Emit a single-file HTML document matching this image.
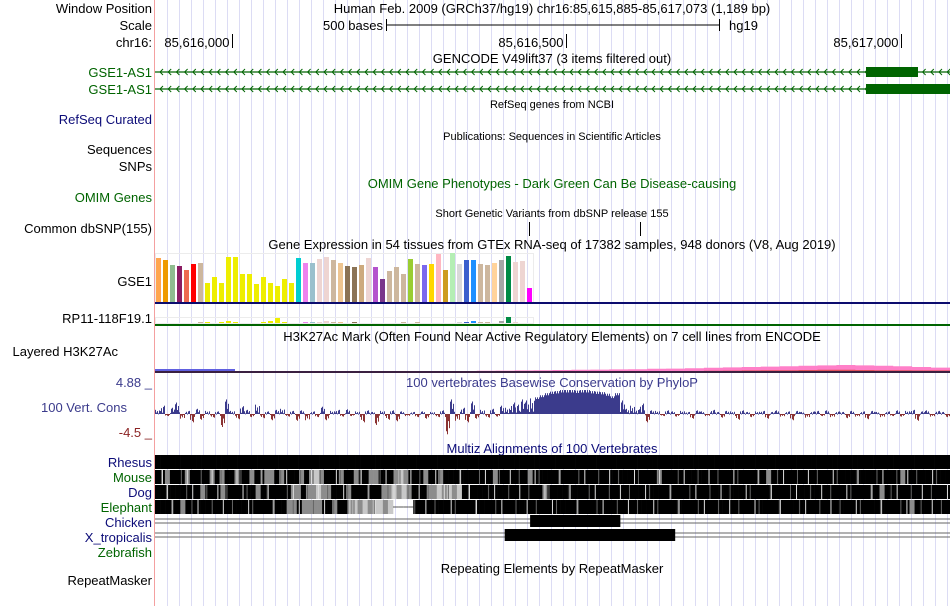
<!DOCTYPE html>
<html><head><meta charset="utf-8">
<style>
html,body{margin:0;padding:0;background:#fff;}
body{width:950px;height:606px;overflow:hidden;font-family:"Liberation Sans",sans-serif;}
svg text{font-family:"Liberation Sans",sans-serif;}
</style></head>
<body>
<svg id="c" width="950" height="606" xmlns="http://www.w3.org/2000/svg">
<g id="grid"></g>
<line x1="154.5" y1="0" x2="154.5" y2="606" stroke="#f4a0a0" stroke-width="1"/>
<g font-size="13" fill="#000" text-anchor="end">
<text x="152" y="13">Window Position</text>
<text x="152" y="30">Scale</text>
<text x="152" y="47">chr16:</text>
<text x="152" y="77" fill="#006400">GSE1-AS1</text>
<text x="152" y="94" fill="#006400">GSE1-AS1</text>
<text x="152" y="124" fill="#0c0c78">RefSeq Curated</text>
<text x="152" y="154">Sequences</text>
<text x="152" y="171">SNPs</text>
<text x="152" y="202" fill="#006400">OMIM Genes</text>
<text x="152" y="233">Common dbSNP(155)</text>
<text x="152" y="286">GSE1</text>
<text x="152" y="323">RP11-118F19.1</text>
<text x="118" y="356">Layered H3K27Ac</text>
<text x="152" y="387" fill="#3b3b8c">4.88 _</text>
<text x="127" y="412" fill="#3b3b8c">100 Vert. Cons</text>
<text x="152" y="437" fill="#8b2323">-4.5 _</text>
<text x="152" y="467" fill="#0c0c78">Rhesus</text>
<text x="152" y="482" fill="#006400">Mouse</text>
<text x="152" y="497" fill="#0c0c78">Dog</text>
<text x="152" y="512" fill="#006400">Elephant</text>
<text x="152" y="527" fill="#0c0c78">Chicken</text>
<text x="152" y="542" fill="#0c0c78">X_tropicalis</text>
<text x="152" y="557" fill="#006400">Zebrafish</text>
<text x="152" y="585">RepeatMasker</text>
</g>
<g font-size="13" text-anchor="middle">
<text x="552" y="13">Human Feb. 2009 (GRCh37/hg19)   chr16:85,615,885-85,617,073 (1,189 bp)</text>
<text x="552" y="63">GENCODE V49lift37 (3 items filtered out)</text>
<text x="552" y="108" font-size="11">RefSeq genes from NCBI</text>
<text x="552" y="140" font-size="11">Publications: Sequences in Scientific Articles</text>
<text x="552" y="188" fill="#006400">OMIM Gene Phenotypes - Dark Green Can Be Disease-causing</text>
<text x="552" y="217" font-size="11">Short Genetic Variants from dbSNP release 155</text>
<text x="552" y="249">Gene Expression in 54 tissues from GTEx RNA-seq of 17382 samples, 948 donors (V8, Aug 2019)</text>
<text x="552" y="341">H3K27Ac Mark (Often Found Near Active Regulatory Elements) on 7 cell lines from ENCODE</text>
<text x="552" y="387" fill="#3b3b8c">100 vertebrates Basewise Conservation by PhyloP</text>
<text x="552" y="453" fill="#0c0c78">Multiz Alignments of 100 Vertebrates</text>
<text x="552" y="573">Repeating Elements by RepeatMasker</text>
</g>
<g font-size="13">
<text x="383" y="30" text-anchor="end">500 bases</text>
<line x1="386" y1="25" x2="719" y2="25" stroke="#000"/>
<line x1="386.5" y1="19" x2="386.5" y2="31" stroke="#000"/>
<line x1="719.5" y1="19" x2="719.5" y2="31" stroke="#000"/>
<text x="729" y="30">hg19</text>
</g>
<g id="ruler" font-size="13"></g>
<g id="genes"></g>
<g id="snps"></g>
<g id="gtex"></g>
<g id="h3k"></g>
<g id="cons"></g>
<g id="multiz"></g>
</svg>
<script>
const chromStart = 85615885, chromEnd = 85617073;
const rulerTicks = [85616000, 85616500, 85617000];
const rulerLabels = ["85,616,000", "85,616,500", "85,617,000"];
const snpPositions = [85616444, 85616610];
const gtexHeights = [44,42,37,36,32,38,39,19,25,19,45,45,28,28,18,25,19,16,23,19,44,39,39,43,45,42,39,36,35,37,44,35,23,31,35,28,43,38,37,38,48,32,49,38,42,42,38,37,39,42,46,40,41,14];
const gtexColors = ["#FFA54F","#EE9A00","#8FBC8F","#8B1C62","#EE6A50","#FF0000","#CDB79E","#EEEE00","#EEEE00","#EEEE00","#EEEE00","#EEEE00","#EEEE00","#EEEE00","#EEEE00","#EEEE00","#EEEE00","#EEEE00","#EEEE00","#EEEE00","#00CED1","#EE82EE","#9AC0CD","#EED5D2","#EED5D2","#CDB79E","#EEC591","#8B7355","#8B7355","#CDAA7D","#EED5D2","#B452CD","#7A378B","#CDB79E","#CDB79E","#CDB79E","#9ACD32","#CDB79E","#7B68EE","#FFD700","#FFB6C1","#CD9B1D","#B4EEB4","#D9D9D9","#3A5FCD","#1E90FF","#CDB79E","#CDB79E","#FFD39B","#A6A6A6","#008B45","#EED5D2","#EED5D2","#FF00FF"];
const rp11Heights = [0,0,0,0,0,0,1,1,0,1,2,1,0,0,0,1,2,5,1,0,0,1,1,1,2,1,1,0,1,0,0,0,0,0,0,1,0,1,0,0,0,0,0,1,1,2,1,1,0,2,6,1,0,0];
const h3kPink = [0.4,0.4,0.4,0.4,0.4,0.5,0.5,0.4,0.4,0.6,0.6,0.5,0.8,0.8,0.9,1,1,1.1,1.2,1.3,1.4,1.5,1.6,1.7,1.8,1.9,2.1,2.2,2.4,2.6,2.8,3,3.2,3.4,3.6,3.8,4,3.8,3.6,3.4,3,2.7];
const h3kRed = [0.2,0.2,0.2,0.2,0.2,0.2,0.3,0.2,0.2,0.3,0.3,0.3,0.3,0.3,0.3,0.4,0.4,0.4,0.5,0.5,0.6,0.6,0.6,0.7,0.7,0.8,0.9,1,1,1.1,1.2,1.3,1.4,1.4,1.5,1.6,1.6,1.5,1.4,1.4,1.3,1.3];
// 5px-wide samples from x=155
const consValues = [0.8,1.6,-0.4,1.2,2.2,-0.9,0.6,-1.6,1.0,-1.1,0.6,-0.7,0.5,-2.5,2.8,0.6,-1.0,1.5,0.8,-0.6,1.8,-0.8,0.5,-1.2,0.8,1.0,-0.5,0.6,-1.3,0.7,-1.2,0.5,-0.6,1.4,-1.2,0.6,0.8,-0.5,0.9,-0.4,0.5,-1.6,0.7,0.4,-2.1,0.6,-1.1,0.7,-1.4,0.5,-0.4,0.4,-0.6,0.5,-0.9,0.4,-0.6,0.7,-3.9,2.8,-1.3,1.2,-1.6,2.4,-0.9,0.8,-0.7,1.0,-0.5,1.6,1.2,2.2,1.8,2.8,2.6,3.0,3.2,3.6,4.0,4.3,4.4,4.6,4.6,4.6,4.5,4.6,4.6,4.4,4.3,4.2,3.9,3.4,4.0,2.6,1.0,1.6,0.9,2.0,-1.6,0.7,0.6,-0.4,0.7,0.5,-0.5,0.6,0.4,-0.9,0.7,0.5,-0.4,0.8,0.4,-0.7,0.6,0.5,-1.1,0.7,0.4,-0.6,0.5,0.6,-0.9,0.4,0.7,-0.5,0.5,-1.2,0.6,0.4,-0.7,0.5,0.6,-0.4,0.7,-0.6,0.5,0.4,-0.8,0.6,-0.5,0.5,-1.0,0.6,0.4,-0.6,0.5,-0.4,0.7,-0.5,0.6,0.8,-1.3,0.5,0.7,-0.5,0.6,0.4,-0.6,0.8,-1.5,0.7];
const multizSpecies = ["rhesus","mouse","dog","elephant"];
const multizRows = [
 "bbbbbbbbbbbbbbbbbbbbbbbbbbbbbbbbbbbbbbbbbbbbbbbbbbbbbbbbbbbbbbbbbbbbbbbbbbbbbbbbbbbbbbbbbbbbbbbbbbbbbbbbbbbbbbbbbbbbbbbbbbbbbbbbbbbbbbbbbbbbbbbbbbbbbbbbbbb",
 "bbgbbbgbbbbgbgbbgbbgbbggbgbbbgbglgbbbgbbgbbggbbbglgbbbgbbgbbbbbbbbbbgbbbbbbgbbbbbbbbbbbbbbbbbbbbbbbbbgbbbbbbbbbbbbbbbbbbbbbgbbbbbbbbbbbbbbbbbbbbbbbbbbgbbbbbbbbb",
 "bbbbbbbbbgbbbgbbbbbbgbbbbbbggbgglggbbbgbbbbbbgglglgbbbgglglglbbbbbbbbbbbbbbbbgbbbbbbbbbbbbbbbbbbbbbbbbbbbbbbbbbbbbbbbbbbbbbbbbbbbbbbbbbbbbbbbbbbgbbbbbbbbbbbbb",
 "bbbbbgbbbbbbbbbbbbbbbbbbbbggbggggbbgbbglglgllgl----bbbbbbbbbbbbbbbbbbbbbbbbbbbbbbbbbbbbbbbbbbbbbbbbbbbbbbbbbbbbbbbbbbbbbbbbbbbbbbbbbbbbbbbbbbbbbbbbbbgbbbbbbb"];
const chickenBlock = [85616446, 85616581];
const xtropBlock = [85616408, 85616663];

const svg = document.getElementById('c');
const NS = 'http://www.w3.org/2000/svg';
const X0 = 155, X1 = 950;
function xPos(p){ return X0 + (p - chromStart) / (chromEnd - chromStart + 1) * (X1 - X0); }
function mk(parent, tag, attrs){ const e = document.createElementNS(NS, tag); for (const k in attrs) e.setAttribute(k, attrs[k]); parent.appendChild(e); return e; }

const grid = document.getElementById('grid');
for (let x = 167.5; x < 950; x += 12) {
  const l = mk(grid, 'line', {x1:x, y1:0, x2:x, y2:606, stroke:'#dcdcf4', 'stroke-width':1});
  
  
}
const ruler = document.getElementById('ruler');
rulerTicks.forEach((p, i) => {
  const x = Math.round(xPos(p)) + 0.5;
  const l = mk(ruler, 'line', {x1:x, y1:34, x2:x, y2:48, stroke:'#000'});
  
  
  const t = mk(ruler, 'text', {x:x - 3, y:47, 'text-anchor':'end'});
  t.textContent = rulerLabels[i];
  
  
});
const genes = document.getElementById('genes');
[72, 89].forEach((y, r) => {
  mk(genes, 'line', {x1:155, y1:y, x2:950, y2:y, stroke:'#006400', 'stroke-width':1.2});
  for (let x = 160; x < 950; x += 8.2) {
    mk(genes, 'path', {d:`M${x+3},${y-3} L${x},${y} L${x+3},${y+3}`, stroke:'#006400', fill:'none', 'stroke-width':1});
  }
  const b = mk(genes, 'rect', {x:866, y:y-5, width: r === 0 ? 52 : 84, height:10, fill:'#006400'});
  
  
});
const snps = document.getElementById('snps');
snpPositions.forEach(p => {
  const x = Math.round(xPos(p)) + 0.5;
  const l = mk(snps, 'line', {x1:x, y1:222, x2:x, y2:236, stroke:'#000'});
  
  
});
const gtex = document.getElementById('gtex');
mk(gtex, 'rect', {x:155.5, y:253.5, width:378, height:49, fill:'none', stroke:'#ececec'});
mk(gtex, 'rect', {x:155.5, y:317.5, width:378, height:6, fill:'none', stroke:'#ececec'});
gtexHeights.forEach((h, i) => {
  const x = 156 + i * 7;
  const b = mk(gtex, 'rect', {x:x, y:302 - h, width:5, height:h, fill:gtexColors[i]});
  
  
  const hs = rp11Heights[i];
  if (hs > 0) {
    const s = mk(gtex, 'rect', {x:x, y:323 - hs, width:5, height:hs, fill:gtexColors[i]});
    
    
  }
});
mk(gtex, 'rect', {x:155, y:302, width:795, height:2, fill:'#0c0c6e'});
mk(gtex, 'rect', {x:155, y:324, width:795, height:2, fill:'#006400'});
const h3k = document.getElementById('h3k');
function band(vals, color, base){
  const w = (X1 - X0) / vals.length;
  let d = `M${X0},${base}`;
  vals.forEach((v, i) => { const y = base - v * 2; d += ` L${X0 + i*w},${y} L${X0 + (i+1)*w},${y}`; });
  d += ` L${X1},${base} Z`;
  const p = mk(h3k, 'path', {d:d, fill:color});
  
  
}
band(h3kPink, '#ff80c8', 373);
band(h3kRed, '#e0505a', 373);
mk(h3k, 'rect', {x:155, y:371, width:795, height:2, fill:'#3a2040'});
mk(h3k, 'rect', {x:155, y:369, width:80, height:2, fill:'#6060e0'});
const cons = document.getElementById('cons');
const zeroY = 414, unit = 5.2;
const cw = 5;
const jitter = [1, 0.35, 0.7, 0.15, 0.85];
consValues.forEach((v, i) => {
  for (let k = 0; k < cw; k++) {
    const m = v > 3 ? (k % 2 ? 0.9 : 1) : jitter[(k + i) % 5];
    const vv = v * m;
    const x = X0 + i * cw + k;
    const y = vv >= 0 ? zeroY - vv * unit : zeroY;
    const h = Math.max(1, Math.abs(vv) * unit);
    const r = mk(cons, 'rect', {x:x, y:y, width:1, height:h, fill: vv >= 0 ? '#3b3b8c' : '#8b3333'});
    
    
  }
});
const mz = document.getElementById('multiz');
const cmap = {b:'#000', g:'#8c8c8c', l:'#c8c8c8'};
multizRows.forEach((row, r) => {
  const y = 455 + r * 15;
  const w = (X1 - X0) / row.length;
  for (let i = 0; i < row.length; i++) {
    const ch = row[i];
    const x = X0 + i * w;
    if (ch === '-') { mk(mz, 'line', {x1:x, y1:y+7, x2:x+w, y2:y+7, stroke:'#555'}); continue; }
    const e = mk(mz, 'rect', {x:x, y:y, width:w + 0.3, height:14, fill:cmap[ch]});
    
    
    if (r > 0 && (i * 7 + r * 3) % 5 === 0) mk(mz, 'rect', {x:x + 2, y:y, width:1, height:14, fill:'#ddd'});
    if (r > 0 && (i * 3 + r) % 4 === 0) mk(mz, 'rect', {x:x + 1, y:y, width:1, height:14, fill:'#666'});
  }
});
[[519, chickenBlock], [533, xtropBlock]].forEach(([y, blk]) => {
  mk(mz, 'line', {x1:155, y1:y, x2:950, y2:y, stroke:'#666'});
  mk(mz, 'line', {x1:155, y1:y+4, x2:950, y2:y+4, stroke:'#666'});
  const e = mk(mz, 'rect', {x:xPos(blk[0]), y:y-4, width:xPos(blk[1]) - xPos(blk[0]), height:12, fill:'#000'});
  
  
});
</script>
</body></html>
